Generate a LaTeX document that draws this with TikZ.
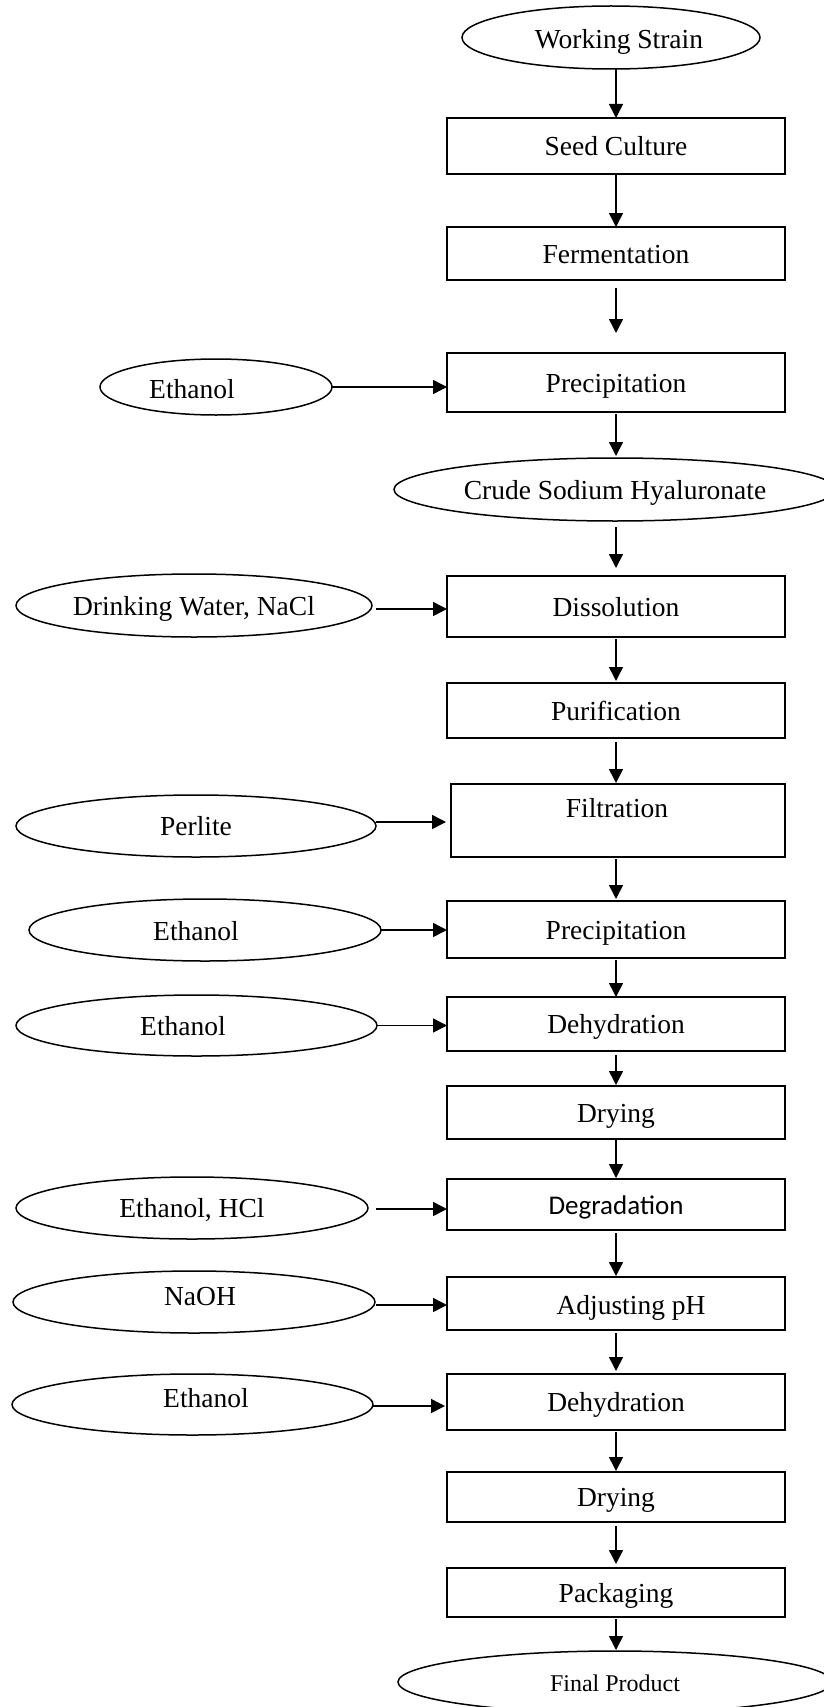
\documentclass[tikz,border=0pt]{standalone}
\usepackage{fontspec}
\setmainfont{Liberation Serif}
\newfontfamily\calibri{Carlito}
\usetikzlibrary{shapes.geometric,arrows.meta,calc}
\begin{document}
\begin{tikzpicture}[x=1pt,y=-1pt,
  every node/.style={font=\fontsize{27.5}{33}\selectfont, text height=24pt, text depth=5pt,
    inner sep=0pt, outer sep=0pt},
  stepbox/.style={draw, line width=1.5pt, rectangle, minimum width=338pt},
  feed/.style={draw, line width=1.5pt, ellipse},
  flow/.style={line width=1.5pt, -{Triangle[length=14pt,width=14pt]}},
]
\clip (0,0) rectangle (824,1707);

% main process column
\node[feed, minimum width=298pt, minimum height=63pt] (ws) at (611,37.5) {};
\node (wst) at (619,39) {Working Strain};
\node[stepbox, minimum height=56pt] (seed) at (616,146) {Seed Culture};
\node[stepbox, minimum height=53pt] (ferm) at (616,253.5) {Fermentation};
\node[stepbox, minimum height=59pt] (prec1) at (616,382.5) {Precipitation};
\node[feed, minimum width=442pt, minimum height=63pt] (crude) at (615,489.5) {Crude Sodium Hyaluronate};
\node[stepbox, minimum height=61pt] (diss) at (616,606.5) {Dissolution};
\node[stepbox, minimum height=55pt] (puri) at (616,710.5) {Purification};
\node[stepbox, minimum width=334pt, minimum height=73pt] (filt) at (618,820.5) {};
\node (filtt) at (617,808) {Filtration};
\node[stepbox, minimum height=57pt] (prec2) at (616,929.5) {Precipitation};
\node[stepbox, minimum height=54pt] (dehy1) at (616,1024) {Dehydration};
\node[stepbox, minimum height=53pt] (dry1) at (616,1112.5) {Drying};
\node[stepbox, minimum height=51pt, font=\calibri\fontsize{27}{33}\selectfont] (degr) at (616,1204.5) {Degradation};
\node[stepbox, minimum height=53pt] (adj) at (616,1303.5) {};
\node (adjt) at (631,1305) {Adjusting pH};
\node[stepbox, minimum height=56pt] (dehy2) at (616,1402) {Dehydration};
\node[stepbox, minimum height=50pt] (dry2) at (616,1497) {Drying};
\node[stepbox, minimum height=49pt] (pack) at (616,1592.5) {Packaging};
\node[feed, minimum width=434pt, minimum height=62pt, font=\fontsize{24}{29}\selectfont] (final) at (615,1682) {Final Product};

% added materials
\node[feed, minimum width=232pt, minimum height=56pt] (eth1) at (216,387) {};
\node (eth1t) at (192,389) {Ethanol};
\node[feed, minimum width=356pt, minimum height=63pt] (water) at (194,605.5) {Drinking Water, NaCl};
\node[feed, minimum width=360pt, minimum height=62pt] (perl) at (196,826) {Perlite};
\node[feed, minimum width=352pt, minimum height=62pt] (eth2) at (205,930) {};
\node (eth2t) at (196,931) {Ethanol};
\node[feed, minimum width=361pt, minimum height=61pt] (eth3) at (196.5,1025.5) {};
\node (eth3t) at (183,1026) {Ethanol};
\node[feed, minimum width=352pt, minimum height=62pt] (ethhcl) at (192,1208) {Ethanol, HCl};
\node[feed, minimum width=362pt, minimum height=62pt] (naoh) at (194,1302) {};
\node (naoht) at (200,1296) {NaOH};
\node[feed, minimum width=361pt, minimum height=61pt] (eth4) at (192.5,1404.5) {};
\node (eth4t) at (206,1398) {Ethanol};

% vertical flow
\draw[flow] (seed.north |- ws.south) -- (seed.north);
\draw[flow] (seed.south) -- (ferm.north);
\draw[flow, shorten <=8pt, shorten >=20pt] (ferm.south) -- (prec1.north);
\draw[flow, shorten <=2pt, shorten >=2pt] (prec1.south) -- (prec1.south |- crude.north);
\draw[flow, shorten <=6pt, shorten >=8pt] (diss.north |- crude.south) -- (diss.north);
\draw[flow, shorten <=2pt, shorten >=2pt] (diss.south) -- (puri.north);
\draw[flow, shorten <=4pt, shorten >=1pt] (puri.south) -- (puri.south |- filt.north);
\draw[flow, shorten <=2pt, shorten >=2pt] (prec2.north |- filt.south) -- (prec2.north);
\draw[flow, shorten <=2pt] (prec2.south) -- (dehy1.north);
\draw[flow, shorten <=4pt, shorten >=1pt] (dehy1.south) -- (dry1.north);
\draw[flow, shorten >=1pt] (dry1.south) -- (degr.north);
\draw[flow, shorten <=3pt, shorten >=1pt] (degr.south) -- (adj.north);
\draw[flow, shorten <=3pt, shorten >=3pt] (adj.south) -- (dehy2.north);
\draw[flow, shorten <=2pt, shorten >=1pt] (dehy2.south) -- (dry2.north);
\draw[flow, shorten <=4pt, shorten >=4pt] (dry2.south) -- (pack.north);
\draw[flow, shorten <=2pt, shorten >=1pt] (pack.south) -- (pack.south |- final.north);

% side inputs
\coordinate (a1) at (eth1.east);
\coordinate (a2) at ($(water.east)+(4,3.5)$);
\coordinate (a3) at ($(perl.east)+(0,-4)$);
\coordinate (a4) at (eth2.east);
\coordinate (a5) at (eth3.east);
\coordinate (a6) at ($(ethhcl.east)+(8,1)$);
\coordinate (a7) at ($(naoh.east)+(1,3)$);
\coordinate (a8) at ($(eth4.east)+(0,1.5)$);
\draw[flow] (a1) -- (a1 -| prec1.west);
\draw[flow] (a2) -- (a2 -| diss.west);
\draw[flow, shorten >=5pt] (a3) -- (a3 -| filt.west);
\draw[flow] (a4) -- (a4 -| prec2.west);
\draw[flow] (a5) -- (a5 -| dehy1.west);
\draw[flow] (a6) -- (a6 -| degr.west);
\draw[flow] (a7) -- (a7 -| adj.west);
\draw[flow, shorten >=2pt] (a8) -- (a8 -| dehy2.west);
\end{tikzpicture}
\end{document}
